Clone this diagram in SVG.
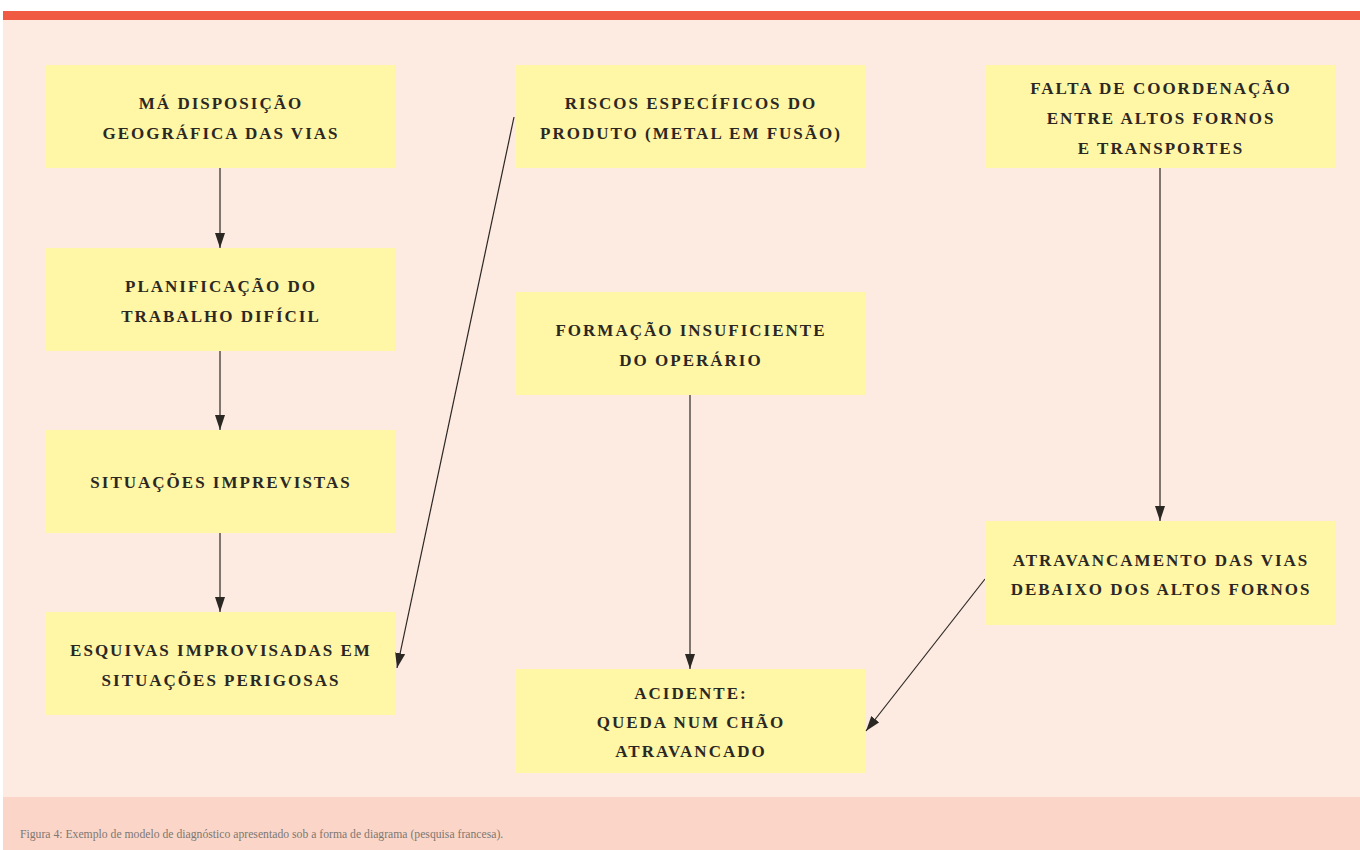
<svg xmlns="http://www.w3.org/2000/svg" width="1360" height="850" viewBox="0 0 1360 850">
<style>
.box{fill:#FFF6A6}
.t{font-family:"Liberation Serif","DejaVu Serif",serif;font-weight:bold;font-size:17px;letter-spacing:2px;fill:#2b2824;text-anchor:middle}
.c{stroke:#2b2824;stroke-width:1.2;fill:none;marker-end:url(#ah)}
.cap{font-family:"Liberation Serif",serif;font-size:11.7px;fill:#7d7772}
</style>
<defs>
<marker id="ah" viewBox="0 0 15 10" refX="15" refY="5" markerWidth="15" markerHeight="10" markerUnits="userSpaceOnUse" orient="auto">
<path d="M0,0 L15,5 L0,10 Z" fill="#2b2824"/>
</marker>
</defs>
<rect x="0" y="0" width="1360" height="850" fill="#ffffff"/>
<rect x="3" y="11" width="1357" height="787" fill="#FDEAE0"/>
<rect x="3" y="11" width="1357" height="9" fill="#F05A43"/>
<rect x="3" y="797" width="1357" height="53" fill="#FBD6C8"/>
<text class="cap" x="20" y="838">Figura 4: Exemplo de modelo de diagnóstico apresentado sob a forma de diagrama (pesquisa francesa).</text>

<g id="connectors">
<line class="c" x1="220" y1="168" x2="220" y2="248"/>
<line class="c" x1="220" y1="351" x2="220" y2="430"/>
<line class="c" x1="220" y1="533" x2="220" y2="612"/>
<line class="c" x1="514" y1="117" x2="397" y2="668"/>
<line class="c" x1="690" y1="395" x2="690" y2="669"/>
<line class="c" x1="1160" y1="168" x2="1160" y2="521"/>
<line class="c" x1="985" y1="579" x2="866" y2="731"/>
</g>

<g id="n1"><rect class="box" x="45" y="65" width="350" height="103"/>
<text class="t" x="221" y="109">MÁ DISPOSIÇÃO</text><text class="t" x="221" y="139">GEOGRÁFICA DAS VIAS</text></g>
<g id="n2"><rect class="box" x="45" y="248" width="350" height="103"/>
<text class="t" x="221" y="292">PLANIFICAÇÃO DO</text><text class="t" x="221" y="322">TRABALHO DIFÍCIL</text></g>
<g id="n3"><rect class="box" x="45" y="430" width="350" height="103"/>
<text class="t" x="221" y="488">SITUAÇÕES IMPREVISTAS</text></g>
<g id="n4"><rect class="box" x="45" y="612" width="350" height="103"/>
<text class="t" x="221" y="656">ESQUIVAS IMPROVISADAS EM</text><text class="t" x="221" y="686">SITUAÇÕES PERIGOSAS</text></g>
<g id="n5"><rect class="box" x="515" y="65" width="350" height="103"/>
<text class="t" x="691" y="109">RISCOS ESPECÍFICOS DO</text><text class="t" x="691" y="139">PRODUTO (METAL EM FUSÃO)</text></g>
<g id="n6"><rect class="box" x="515" y="292" width="350" height="103"/>
<text class="t" x="691" y="336">FORMAÇÃO INSUFICIENTE</text><text class="t" x="691" y="366">DO OPERÁRIO</text></g>
<g id="n7"><rect class="box" x="515" y="669" width="350" height="104"/>
<text class="t" x="691" y="699">ACIDENTE:</text><text class="t" x="691" y="728">QUEDA NUM CHÃO</text><text class="t" x="691" y="757">ATRAVANCADO</text></g>
<g id="n8"><rect class="box" x="985" y="65" width="350" height="103"/>
<text class="t" x="1161" y="94">FALTA DE COORDENAÇÃO</text><text class="t" x="1161" y="124">ENTRE ALTOS FORNOS</text><text class="t" x="1161" y="154">E TRANSPORTES</text></g>
<g id="n9"><rect class="box" x="985" y="521" width="350" height="104"/>
<text class="t" x="1161" y="566">ATRAVANCAMENTO DAS VIAS</text><text class="t" x="1161" y="595">DEBAIXO DOS ALTOS FORNOS</text></g>
</svg>
